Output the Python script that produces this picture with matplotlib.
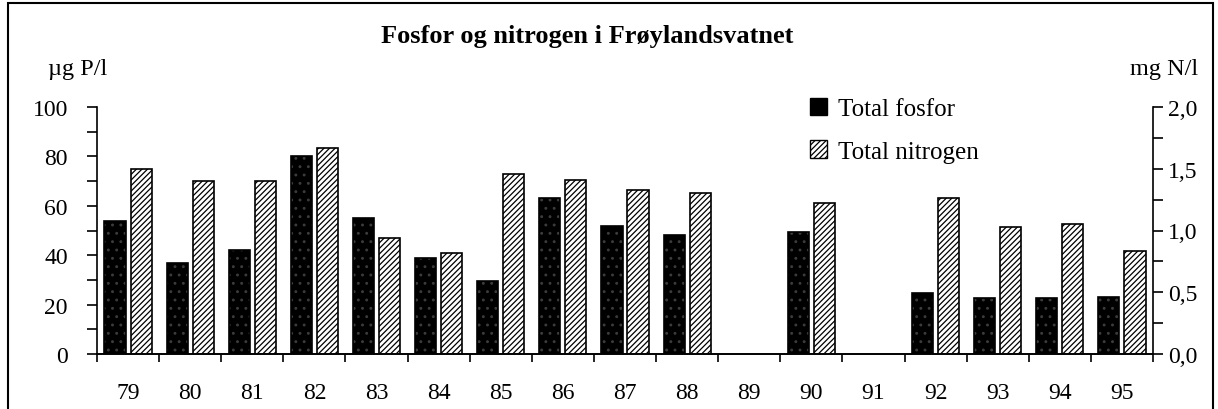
import numpy as np
import matplotlib.pyplot as plt
from matplotlib.patches import Rectangle, Patch

# Data
years = ['79', '80', '81', '82', '83', '84', '85', '86', '87', '88',
         '89', '90', '91', '92', '93', '94', '95']
fosfor = [54, 37, 42, 80, 55, 39, 29.5, 63, 52, 48,
          np.nan, 49.5, np.nan, 24.5, 22.5, 22.5, 23]          # ug P/l
nitrogen = [1.50, 1.40, 1.40, 1.67, 0.94, 0.82, 1.46, 1.41, 1.33, 1.30,
            np.nan, 1.22, np.nan, 1.26, 1.03, 1.05, 0.83]      # mg N/l

plt.rcParams['font.family'] = ['Liberation Serif', 'DejaVu Serif']
plt.rcParams['hatch.linewidth'] = 0.9

fig = plt.figure(figsize=(12.18, 4.10), dpi=100)
ax = fig.add_axes([97 / 1218, 1 - 355 / 410, (1153 - 97) / 1218, (355 - 108) / 410])
ax2 = ax.twinx()

x = np.arange(len(years))
w = 0.34
off = 0.21

# fosfor: black with faint dots
ax.bar(x - off, fosfor, w, color='black', edgecolor='#3c3c3c', hatch='..', linewidth=0)
ax.bar(x - off, fosfor, w, fill=False, edgecolor='black', linewidth=1.2)
# nitrogen: white with diagonal hatch
ax2.bar(x + off, nitrogen, w, color='white', edgecolor='black', hatch='//////', linewidth=1.2)

ax.set_xlim(-0.5, len(years) - 0.5)
ax.set_ylim(0, 100)
ax2.set_ylim(0, 2.0)

for a in (ax, ax2):
    a.spines['top'].set_visible(False)
    for s in ('left', 'right', 'bottom'):
        a.spines[s].set_linewidth(1.2)
ax.spines['right'].set_visible(False)
ax2.spines['left'].set_visible(False)

ax.set_yticks(np.arange(0, 101, 20))
ax.set_yticks(np.arange(10, 100, 20), minor=True)
ax.tick_params(axis='y', which='both', direction='out', length=7, width=1.2,
               labelsize=17, pad=14)

n_ticks = np.arange(0, 2.01, 0.5)
ax2.set_yticks(n_ticks)
ax2.set_yticklabels([f'{v:.1f}'.replace('.', ',') for v in n_ticks])
ax2.set_yticks(np.arange(0.25, 2.0, 0.5), minor=True)
ax2.tick_params(axis='y', which='both', direction='out', length=7, width=1.2,
                labelsize=17, pad=4)

ax.set_xticks(x)
ax.set_xticklabels(years)
ax.set_xticks(np.arange(-0.5, len(years)), minor=True)
ax.tick_params(axis='x', which='major', length=0, labelsize=17, pad=20)
ax.tick_params(axis='x', which='minor', direction='out', length=6, width=1.2)

# texts
fig.text(587 / 1218, 1 - 37 / 410, 'Fosfor og nitrogen i Frøylandsvatnet',
         ha='center', va='center', fontsize=19, fontweight='bold')
fig.text(48 / 1218, 1 - 70 / 410, 'µg P/l', ha='left', va='center', fontsize=17.5)
fig.text(1198 / 1218, 1 - 70 / 410, 'mg N/l', ha='right', va='center', fontsize=17.5)

handles = [Patch(facecolor='black', edgecolor='black', label='Total fosfor'),
           Patch(facecolor='white', edgecolor='black', hatch='//////', label='Total nitrogen')]
fig.legend(handles=handles, loc='upper left', bbox_to_anchor=(797 / 1218, 1 - 86 / 410),
           frameon=False, fontsize=18, handlelength=0.7, handleheight=0.7,
           handletextpad=0.45, labelspacing=0.8, borderpad=0)

# outer frame (bottom edge lies below the picture)
fig.patches.append(Rectangle((8 / 1218, -10 / 410), 1205 / 1218, 416 / 410,
                             transform=fig.transFigure, fill=False,
                             edgecolor='black', linewidth=1.5))

fig.savefig('out.png', dpi=100)
